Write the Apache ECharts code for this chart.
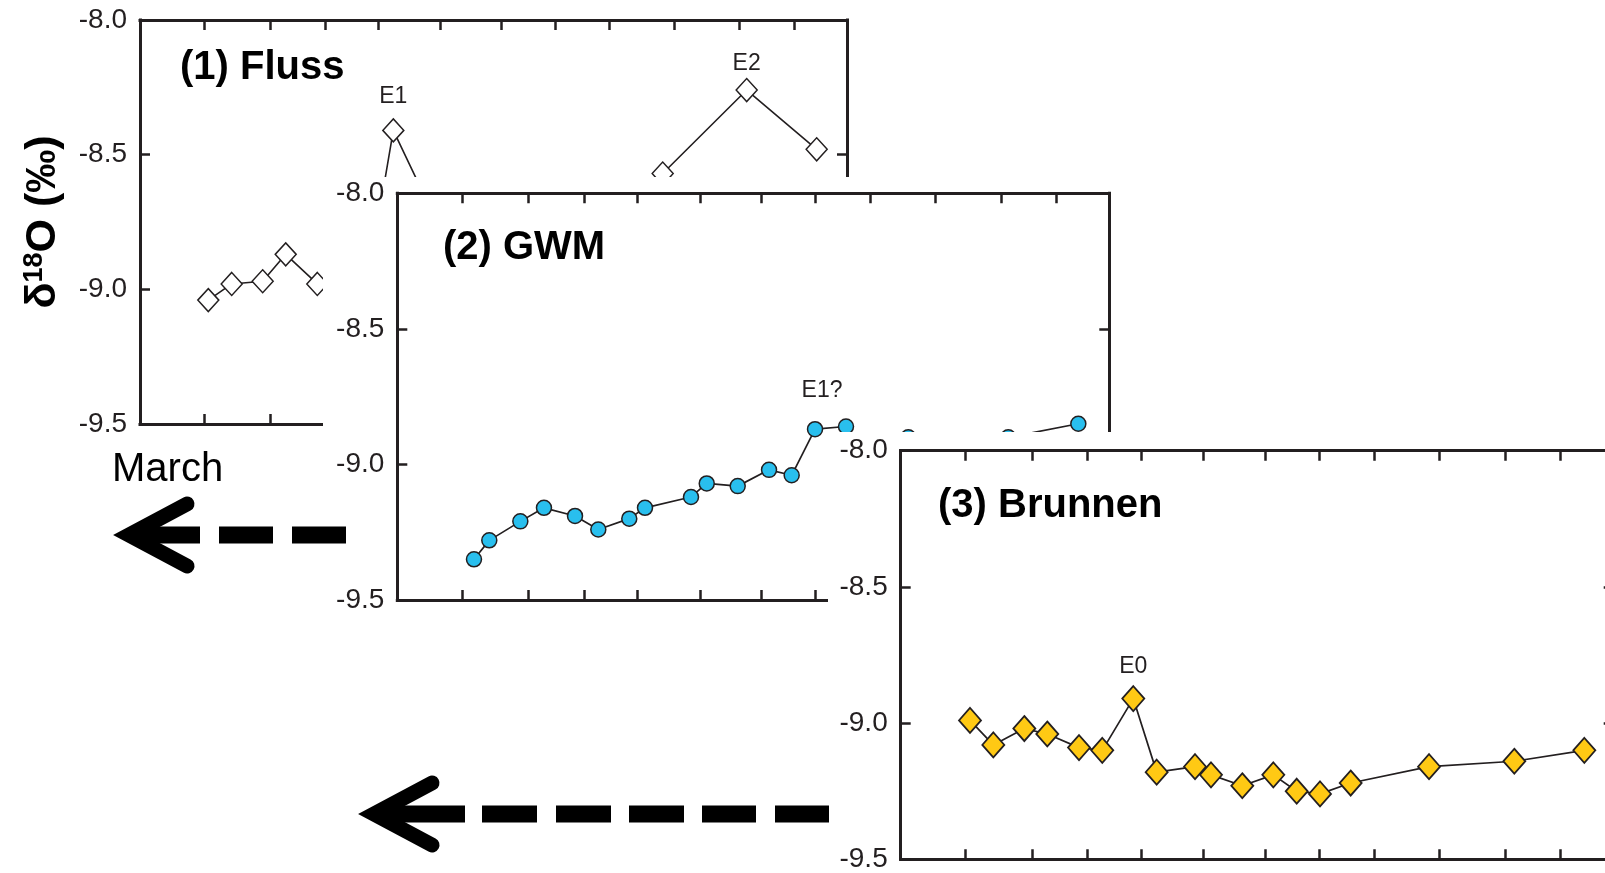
<!DOCTYPE html>
<html><head><meta charset="utf-8">
<script src="https://cdn.jsdelivr.net/npm/echarts@6/dist/echarts.min.js"></script>
<style>html,body{margin:0;padding:0;background:#fff}#c{width:1605px;height:873px}</style>
</head><body><div id="c"></div>
<script>
// ---- data (x = position within the time window, % ; y = δ18O ‰) ----
const xTicks = [9.1, 18.4, 26.2, 33.7, 42.5, 51.1, 58.7, 66.4, 75.5, 84.8, 92.5];
const yMin = -9.5, yMax = -8.0, yStep = 0.5;

const flussX = [9.66, 12.97, 17.35, 20.61, 25.08, 31.8, 35.83, 43.8, 56.6, 65.1, 73.93, 85.81, 95.71];
const flussY = [-9.04, -8.98, -8.97, -8.87, -8.98, -9.03, -8.41, -8.85, -8.90, -8.80, -8.57, -8.26, -8.48];
const flussEvents = {6: 'E1', 11: 'E2'};

const gwmX = [10.77, 12.92, 17.28, 20.60, 24.96, 28.23, 32.58, 34.79, 41.25, 43.46, 47.81, 52.21, 55.39, 58.67, 63.02, 66.7, 71.77, 85.81, 95.65];
const gwmY = [-9.35, -9.28, -9.21, -9.16, -9.19, -9.24, -9.20, -9.16, -9.12, -9.07, -9.08, -9.02, -9.04, -8.87, -8.86, -8.96, -8.90, -8.90, -8.85];
const gwmEvents = {13: 'E1?'};

const brunnenX = [9.72, 12.99, 17.34, 20.56, 25.01, 28.27, 32.62, 35.90, 41.28, 43.52, 47.91, 52.26, 55.54, 58.81, 63.11, 74.10, 86.06, 95.88];
const brunnenY = [-8.99, -9.08, -9.02, -9.04, -9.09, -9.10, -8.91, -9.18, -9.16, -9.19, -9.23, -9.19, -9.25, -9.26, -9.22, -9.16, -9.14, -9.10];
const brunnenEvents = {6: 'E0'};

const panelTitles = ['(1) Fluss', '(2) GWM', '(3) Brunnen'];
const yAxisTitle = ['δ', '18', 'O (‰)'];
const monthText = 'March';

// ---- layout / style ----
const FONT = "'Liberation Sans', Arial, Helvetica, sans-serif";
const INK = '#231f20';
const panels = [
  {left: 140,   top: 20,    width: 707, height: 404,   z: 0,
   title: {x: 180, y: 68}, bg: null,
   symbol: 'diamond', size: [21, 23], fill: '#ffffff', lw: 1.6, bw: 1.5,
   labelDist: {E1: 10, E2: 3}, labelOff: {}},
  {left: 397.3, top: 193.3, width: 712, height: 406.7, z: 10,
   title: {x: 443, y: 248}, bg: {x: 323, y: 177},
   symbol: 'circle', size: 15, fill: '#29bfee', lw: 1.7, bw: 1.5,
   labelDist: {'E1?': 19}, labelOff: {'E1?': [7, 0]}},
  {left: 900.7, top: 450.7, width: 713, height: 408.6, z: 20,
   title: {x: 938, y: 506}, bg: {x: 828, y: 432},
   symbol: 'diamond', size: [22, 25], fill: '#ffc914', lw: 1.7, bw: 1.8,
   labelDist: {E0: 7}, labelOff: {}}
];
const seriesData = [
  [flussX, flussY, flussEvents],
  [gwmX, gwmY, gwmEvents],
  [brunnenX, brunnenY, brunnenEvents]
];

const grids = [], xAxes = [], yAxes = [], series = [], graphics = [];

panels.forEach((p, i) => {
  grids.push({left: p.left, top: p.top, width: p.width, height: p.height,
    containLabel: false, outerBoundsMode: 'none', show: false});
  ['bottom', 'top'].forEach(pos => xAxes.push({
    type: 'value', gridIndex: i, position: pos, min: 0, max: 100, z: p.z + 3,
    axisLine: {show: true, onZero: false, lineStyle: {color: INK, width: 3, cap: 'square'}},
    axisTick: {show: true, inside: true, length: 10, customValues: xTicks,
               lineStyle: {color: INK, width: 2.5}},
    axisLabel: {show: false}, splitLine: {show: false}
  }));
  ['left', 'right'].forEach(pos => yAxes.push({
    type: 'value', gridIndex: i, position: pos, min: yMin, max: yMax, interval: yStep, z: p.z + 3,
    axisLine: {show: true, onZero: false, lineStyle: {color: INK, width: 3, cap: 'square'}},
    axisTick: {show: true, inside: true, length: 10, lineStyle: {color: INK, width: 2.5}},
    axisLabel: {show: pos === 'left', margin: 13, formatter: v => v.toFixed(1),
                color: INK, fontSize: 28, fontFamily: FONT},
    splitLine: {show: false}
  }));
  const [xs, ys, ev] = seriesData[i];
  const data = xs.map((x, k) => {
    const item = {value: [x, ys[k]]};
    if (ev[k]) {
      item.label = {show: true, formatter: ev[k], position: 'top',
        distance: p.labelDist[ev[k]], offset: p.labelOff[ev[k]] || [0, 0],
        color: INK, fontSize: 23, fontFamily: FONT};
    }
    return item;
  });
  series.push({
    type: 'line', xAxisIndex: 2 * i, yAxisIndex: 2 * i, data: data, z: p.z + 2,
    symbol: p.symbol, symbolSize: p.size, showAllSymbol: true,
    itemStyle: {color: p.fill, borderColor: INK, borderWidth: p.bw},
    lineStyle: {color: INK, width: p.lw},
    label: {show: false}, emphasis: {disabled: true}, silent: true, animation: false
  });
  if (p.bg) {
    graphics.push({type: 'rect', z: p.z, shape: {x: p.bg.x, y: p.bg.y, width: 1700, height: 900},
                   style: {fill: '#ffffff'}, silent: true});
  }
  graphics.push({type: 'text', z: p.z + 4, x: p.title.x, y: p.title.y,
    style: {text: panelTitles[i], fontSize: 40, fontWeight: 'bold', fontFamily: FONT,
            fill: '#000', align: 'left', verticalAlign: 'middle'}});
});

// y-axis title
graphics.push({type: 'text', z: 5, x: 43, y: 222, rotation: Math.PI / 2,
  style: {text: '{a|' + yAxisTitle[0] + '}{s|' + yAxisTitle[1] + '}{a|' + yAxisTitle[2] + '}',
    align: 'center', verticalAlign: 'middle', fill: '#000',
    rich: {a: {fontSize: 43, fontWeight: 'bold', fontFamily: FONT, fill: '#000', verticalAlign: 'bottom'},
           s: {fontSize: 27, fontWeight: 'bold', fontFamily: FONT, fill: '#000', verticalAlign: 'top'}}}});
// March
graphics.push({type: 'text', z: 30, x: 112, y: 470,
  style: {text: monthText, fontSize: 40, fontFamily: FONT, fill: '#000', align: 'left', verticalAlign: 'middle'}});

// arrows
function arrow(vx, cy, armEndX, armDy, dashes) {
  graphics.push({type: 'polyline', z: 30, silent: true,
    shape: {points: [[armEndX, cy - armDy], [vx, cy], [armEndX, cy + armDy]]},
    style: {stroke: '#000', fill: null, lineWidth: 15, lineCap: 'round', lineJoin: 'miter', miterLimit: 10}});
  dashes.forEach(d => graphics.push({type: 'line', z: 30, silent: true,
    shape: {x1: d[0], y1: cy, x2: d[1], y2: cy},
    style: {stroke: '#000', lineWidth: 17, lineCap: 'butt'}}));
}
arrow(129, 535, 187, 31, [[140, 200], [219, 273], [292, 346]]);
arrow(374, 814, 432, 31, [[385, 465], [482, 537], [556, 611], [629, 684], [702, 756], [775, 829]]);

const chart = echarts.init(document.getElementById('c'), null, {renderer: 'canvas'});
chart.setOption({
  animation: false,
  backgroundColor: '#ffffff',
  textStyle: {fontFamily: FONT},
  grid: grids, xAxis: xAxes, yAxis: yAxes, series: series,
  graphic: {elements: graphics}
});
</script></body></html>
